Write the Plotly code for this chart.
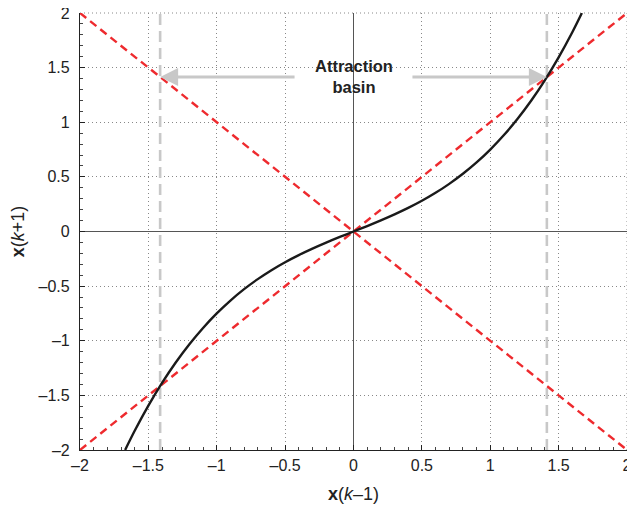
import plotly.graph_objects as go

# Curve x(k+1) vs x(k-1)
curve_x = [-1.67, -1.6, -1.5, -1.4, -1.3, -1.2, -1.1, -1.0, -0.9, -0.8, -0.7, -0.6, -0.5,
           -0.4, -0.3, -0.2, -0.1, 0.0, 0.1, 0.2, 0.3, 0.4, 0.5, 0.6, 0.7, 0.8, 0.9,
           1.0, 1.1, 1.2, 1.3, 1.4, 1.5, 1.6, 1.67]
curve_y = [-2.0, -1.824, -1.594, -1.386, -1.199, -1.032, -0.883, -0.75, -0.632, -0.528, -0.436,
           -0.354, -0.281, -0.216, -0.157, -0.102, -0.050, 0.0, 0.050, 0.102, 0.157, 0.216,
           0.281, 0.354, 0.436, 0.528, 0.632, 0.75, 0.883, 1.032, 1.199, 1.386, 1.594, 1.824, 2.0]

diag_x = [-2, 2]
diag_up = [-2, 2]
diag_down = [2, -2]

basin_edges = [-1.414, 1.414]
arrow_tail = [-0.42, 0.42]
arrow_y = 1.414

tick_vals = [-2, -1.5, -1, -0.5, 0, 0.5, 1, 1.5, 2]
tick_text = ["–2", "–1.5", "–1", "–0.5", "0", "0.5", "1", "1.5", "2"]

red = "#ee2a2e"
grey = "#c8c8c8"
grid_col = "#888"
grid_dash = "1px,3px"
font_family = "Liberation Sans, Arial"

fig = go.Figure()

for xe in basin_edges:
    fig.add_trace(go.Scatter(x=[xe, xe], y=[-2, 2], mode="lines",
                             line=dict(color=grey, width=2.6, dash="11px,6px"),
                             hoverinfo="skip", showlegend=False))

fig.add_trace(go.Scatter(x=diag_x, y=diag_up, mode="lines",
                         line=dict(color=red, width=2.4, dash="8px,5px"), showlegend=False))
fig.add_trace(go.Scatter(x=diag_x, y=diag_down, mode="lines",
                         line=dict(color=red, width=2.4, dash="8px,5px"), showlegend=False))

fig.add_trace(go.Scatter(x=curve_x, y=curve_y, mode="lines", line_shape="spline",
                         line=dict(color="#1a1a1a", width=2.4), showlegend=False))

for tail, head in zip(arrow_tail, basin_edges):
    fig.add_annotation(x=head, y=arrow_y, ax=tail, ay=arrow_y, xref="x", yref="y",
                       axref="x", ayref="y", showarrow=True, text="",
                       arrowhead=2, arrowsize=1.2, arrowwidth=3, arrowcolor=grey)

fig.add_annotation(x=0, y=1.415, xref="x", yref="y", showarrow=False,
                   text="<b>Attraction<br>basin</b>",
                   font=dict(family=font_family, size=16.5, color="#222"))

# dotted grid lines along the top and right edges (plotly drops grid lines at range ends)
fig.add_shape(type="line", xref="paper", yref="paper", x0=0, x1=1, y0=1, y1=1,
              line=dict(color=grid_col, width=1, dash=grid_dash), layer="below")
fig.add_shape(type="line", xref="paper", yref="paper", x0=1, x1=1, y0=0, y1=1,
              line=dict(color=grid_col, width=1, dash=grid_dash), layer="below")

axis_common = dict(
    range=[-2, 2], tickvals=tick_vals, ticktext=tick_text,
    showgrid=True, gridcolor=grid_col, griddash=grid_dash, gridwidth=1,
    zeroline=True, zerolinecolor="#555", zerolinewidth=1.2,
    showline=True, linecolor="#222", linewidth=1.2,
    ticks="inside", ticklen=5, tickcolor="#222",
    minor=dict(dtick=0.1, ticks="inside", ticklen=3, tickcolor="#444", showgrid=False),
    tickfont=dict(family=font_family, size=16, color="#222"),
    ticklabeloverflow="allow",
    fixedrange=True, automargin=False,
)

fig.update_xaxes(**axis_common, ticklabelstandoff=1,
                 title=dict(text="<b>x</b>(<i>k</i>–1)", standoff=16,
                            font=dict(family=font_family, size=18, color="#222")))
fig.update_yaxes(**axis_common, ticklabelstandoff=6,
                 title=dict(text="<b>x</b>(<i>k</i>+1)", standoff=18,
                            font=dict(family=font_family, size=18, color="#222")))

# the page body adds an 8px margin, so the figure is sized to fit the visible area
fig.update_layout(
    width=619, height=496,
    margin=dict(l=72, r=0, t=5, b=54),
    plot_bgcolor="white", paper_bgcolor="white",
    showlegend=False,
)

fig.write_html("out.html")
